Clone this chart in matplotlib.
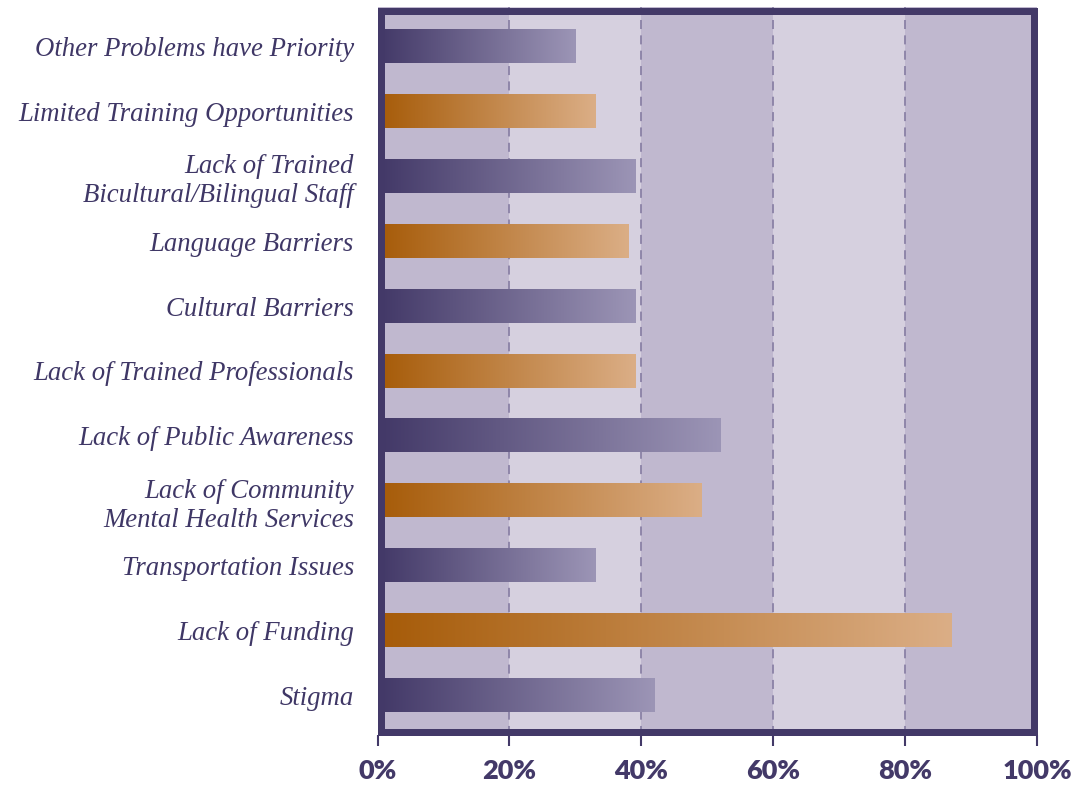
import matplotlib.pyplot as plt
import numpy as np
from matplotlib.patches import Rectangle
from matplotlib.colors import LinearSegmentedColormap

categories = [
    'Other Problems have Priority',
    'Limited Training Opportunities',
    'Lack of Trained\nBicultural/Bilingual Staff',
    'Language Barriers',
    'Cultural Barriers',
    'Lack of Trained Professionals',
    'Lack of Public Awareness',
    'Lack of Community\nMental Health Services',
    'Transportation Issues',
    'Lack of Funding',
    'Stigma',
]
values = [30, 33, 39, 38, 39, 39, 52, 49, 33, 87, 42]
xticks = [0, 20, 40, 60, 80, 100]
xtick_labels = ['0%', '20%', '40%', '60%', '80%', '100%']

frame_col = '#433968'
text_col = '#3f3766'
band_dark = '#c0b8cf'
band_light = '#d6d0df'
grid_col = '#8a81a6'
purple = LinearSegmentedColormap.from_list('p', ['#423867', '#9c95b6'])
orange = LinearSegmentedColormap.from_list('o', ['#a65b08', '#dbae86'])

W, H = 1074, 785
fig = plt.figure(figsize=(W / 100, H / 100), dpi=100)
# axes spans outer edges of the frame
ax = fig.add_axes([377.5 / W, 1 - 735 / H, (1037 - 377.5) / W, (735 - 7) / H])

ylo, yhi = 10.5 + 7 / 64.9, -0.5 - 7 / 64.9

# background bands
for i in range(5):
    ax.axvspan(xticks[i], xticks[i + 1], color=band_dark if i % 2 == 0 else band_light,
               lw=0, zorder=0)
for x in xticks[1:-1]:
    ax.axvline(x, color=grid_col, lw=1.3, dashes=(5, 3.5), zorder=1)

grad = np.linspace(0, 1, 256).reshape(1, -1)
bar_h = 0.51
for i, v in enumerate(values):
    cmap = purple if i % 2 == 0 else orange
    ax.imshow(grad, cmap=cmap, aspect='auto', interpolation='bicubic',
              extent=(0, v, i + bar_h / 2, i - bar_h / 2), zorder=2)

ax.set_xlim(0, 100)
ax.set_ylim(ylo, yhi)
ax.set_aspect('auto')

# thick frame, drawn inside the axes edges
lw_px = 7
fx = lw_px / 2 / (1037 - 377.5)
fy = lw_px / 2 / (735 - 7)
ax.add_patch(Rectangle((fx, fy), 1 - 2 * fx, 1 - 2 * fy, transform=ax.transAxes,
                       fill=False, ec=frame_col, lw=lw_px * 0.72, zorder=5,
                       clip_on=False, joinstyle='miter'))
for s in ax.spines.values():
    s.set_visible(False)

ax.set_yticks(range(len(categories)))
ax.set_yticklabels(categories, family='Liberation Serif', style='italic',
                   fontsize=19.3, color=text_col, linespacing=1.2)
ax.tick_params(axis='y', length=0, pad=17)

ax.set_xticks(xticks)
ax.set_xticklabels(xtick_labels, family='Lato', weight='heavy', fontsize=19.5,
                   color=frame_col)
ax.tick_params(axis='x', length=8, width=1.5, color=frame_col, pad=9)

fig.savefig('out.png', dpi=100)
